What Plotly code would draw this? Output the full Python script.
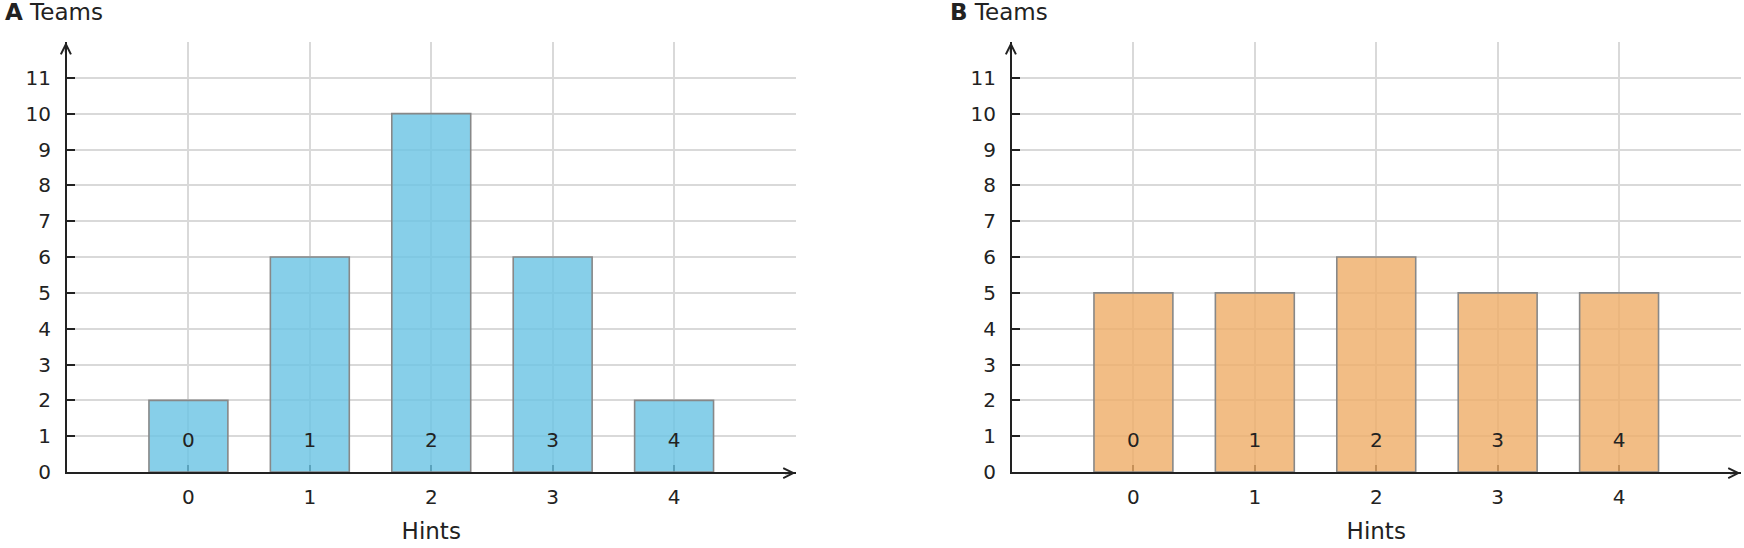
import plotly.graph_objects as go
from plotly.subplots import make_subplots

# Number of teams for each count of hints used
hints = [0, 1, 2, 3, 4]
teams_a = [2, 6, 10, 6, 2]
teams_b = [5, 5, 6, 5, 5]
panel_labels = ["A", "B"]
y_ticks = list(range(0, 12))

FONT = "DejaVu Sans"
INK = "#222222"
GRID = "#d9d9d9"

fig = make_subplots(rows=1, cols=2)

panels = [
    (teams_a, "rgba(105, 195, 227, 0.8)"),
    (teams_b, "rgba(239, 173, 103, 0.8)"),
]

for i, (teams, color) in enumerate(panels, start=1):
    fig.add_trace(
        go.Bar(
            x=hints,
            y=teams,
            width=0.65,
            marker=dict(color=color, line=dict(color="#888888", width=1.6)),
            showlegend=False,
            hoverinfo="skip",
        ),
        row=1, col=i,
    )
    # hint number written near the foot of each bar
    fig.add_trace(
        go.Scatter(
            x=hints,
            y=[0.85] * len(hints),
            mode="text",
            text=[str(h) for h in hints],
            textfont=dict(family=FONT, size=20, color=INK),
            showlegend=False,
            hoverinfo="skip",
        ),
        row=1, col=i,
    )

x_domains = [[67 / 1744, 795.5 / 1744], [1012 / 1744, 1740.5 / 1744]]
y_domain = [76 / 548, 506 / 548]

for i in (1, 2):
    xa = "xaxis" if i == 1 else "xaxis2"
    ya = "yaxis" if i == 1 else "yaxis2"
    fig.layout[xa].update(
        domain=x_domains[i - 1],
        range=[-1, 5],
        automargin=False,
        tickmode="array",
        tickvals=hints,
        showgrid=True, gridcolor=GRID, gridwidth=1.6,
        minor=dict(tickmode="array", tickvals=[5], showgrid=True,
                   gridcolor=GRID, gridwidth=1.6, ticks=""),
        ticks="inside", ticklen=7, tickwidth=2, tickcolor=INK,
        showline=True, linecolor=INK, linewidth=2.2,
        zeroline=False,
        layer="below traces",
        ticklabelstandoff=6,
        tickfont=dict(family=FONT, size=20, color=INK),
        title=dict(text="Hints", font=dict(family=FONT, size=23, color=INK), standoff=15),
    )
    fig.layout[ya].update(
        domain=y_domain,
        range=[0, 12],
        automargin=False,
        tickmode="array",
        tickvals=y_ticks,
        showgrid=True, gridcolor=GRID, gridwidth=1.6,
        minor=dict(tickmode="array", tickvals=[12], showgrid=True,
                   gridcolor=GRID, gridwidth=1.6, ticks=""),
        ticks="inside", ticklen=8, tickwidth=2, tickcolor=INK,
        showline=True, linecolor=INK, linewidth=2.2,
        zeroline=False,
        ticklabelstandoff=10,
        tickfont=dict(family=FONT, size=20, color=INK),
    )

    xr = "x" if i == 1 else "x2"
    yr = "y" if i == 1 else "y2"
    # arrow heads at the ends of both axes (shifted onto the drawn axis lines)
    fig.add_annotation(x=-1, y=12, xref=xr, yref=yr, ax=0, ay=12,
                       xshift=-1.1, showarrow=True, arrowhead=5, arrowsize=0.9,
                       arrowwidth=2.2, arrowcolor=INK, text="")
    fig.add_annotation(x=5, y=0, xref=xr, yref=yr, ax=-12, ay=0,
                       yshift=-1.1, showarrow=True, arrowhead=5, arrowsize=0.9,
                       arrowwidth=2.2, arrowcolor=INK, text="")
    # panel title
    fig.add_annotation(
        x=x_domains[i - 1][0] - 64 / 1744, y=1.005, xref="paper", yref="paper",
        xanchor="left", yanchor="top", showarrow=False,
        text="<b>" + panel_labels[i - 1] + "</b> Teams",
        font=dict(family=FONT, size=23, color=INK),
    )

fig.update_layout(
    width=1744,
    height=548,
    margin=dict(l=0, r=0, t=0, b=0, autoexpand=False),
    plot_bgcolor="white",
    paper_bgcolor="white",
    font=dict(family=FONT, color=INK),
)

# drop the browser's default page margin so the figure fills the window
fig.write_html(
    "out.html",
    config={"displayModeBar": False},
    post_script="document.body.style.margin = '0';",
)
